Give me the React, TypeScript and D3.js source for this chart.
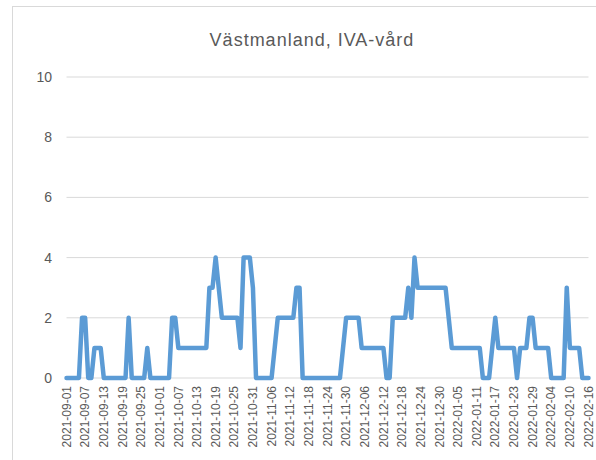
import React from 'react';
import * as d3 from 'd3';

// Daily IVA (ICU) patients, Västmanland, 2021-09-01 .. 2022-02-16
const firstDay = '2021-09-01';
const lastDay = '2022-02-16';
const patients: number[] = [
  0, 0, 0, 0, 0, 2, 2, 0, 0, 1, 1, 1, 0, 0, 0, 0, 0, 0, 0, 0,
  2, 0, 0, 0, 0, 0, 1, 0, 0, 0, 0, 0, 0, 0, 2, 2, 1, 1, 1, 1,
  1, 1, 1, 1, 1, 1, 3, 3, 4, 3, 2, 2, 2, 2, 2, 2, 1, 4, 4, 4,
  3, 0, 0, 0, 0, 0, 0, 1, 2, 2, 2, 2, 2, 2, 3, 3, 0, 0, 0, 0,
  0, 0, 0, 0, 0, 0, 0, 0, 0, 1, 2, 2, 2, 2, 2, 1, 1, 1, 1, 1,
  1, 1, 1, 0, 0, 2, 2, 2, 2, 2, 3, 2, 4, 3, 3, 3, 3, 3, 3, 3,
  3, 3, 3, 2, 1, 1, 1, 1, 1, 1, 1, 1, 1, 1, 0, 0, 0, 1, 2, 1,
  1, 1, 1, 1, 1, 0, 1, 1, 1, 2, 2, 1, 1, 1, 1, 1, 0, 0, 0, 0,
  0, 3, 1, 1, 1, 1, 0, 0, 0,
];
const yTicks = [0, 2, 4, 6, 8, 10];
const labelEvery = 6;
const title = 'Västmanland, IVA-vård';

const W = 596;
const H = 460;
const FONT = '"Liberation Sans", Arial, sans-serif';
const TEXT = '#595959';

const App: React.FC = () => {
  const fmt = d3.utcFormat('%Y-%m-%d');
  const start = d3.utcParse('%Y-%m-%d')(firstDay)!;
  const end = d3.utcParse('%Y-%m-%d')(lastDay)!;
  const days = d3.utcDays(start, d3.utcDay.offset(end, 1)).map(fmt);

  const x = d3.scalePoint<string>().domain(days).range([66.5, 588.5]);
  const y = d3.scaleLinear().domain([0, 10]).range([378, 77]);

  const line = d3
    .line<number>()
    .x((_, i) => x(days[i])!)
    .y((d) => y(d));

  const tickDays = days.filter((_, i) => i % labelEvery === 0);
  const [x0, x1] = x.range();

  return (
    <svg
      width={W}
      height={H}
      style={{ position: 'absolute', left: 0, top: 0, background: '#fff' }}
    >
      <rect x={12.5} y={6.5} width={W} height={H} fill="#fff" stroke="#d9d9d9" />
      <text
        x={312}
        y={46}
        textAnchor="middle"
        fontFamily={FONT}
        fontSize={18}
        letterSpacing={1}
        fill={TEXT}
      >
        {title}
      </text>

      {yTicks.map((t) => (
        <g key={t}>
          <line x1={x0} x2={x1} y1={y(t)} y2={y(t)} stroke="#d9d9d9" strokeWidth={1} />
          <text
            x={52}
            y={y(t)}
            dy="0.35em"
            textAnchor="end"
            fontFamily={FONT}
            fontSize={14}
            fill={TEXT}
          >
            {t}
          </text>
        </g>
      ))}

      {tickDays.map((d) => (
        <text
          key={d}
          transform={`translate(${x(d)},386) rotate(-90)`}
          dy="0.35em"
          textAnchor="end"
          fontFamily={FONT}
          fontSize={12}
          fill={TEXT}
        >
          {d}
        </text>
      ))}

      <path
        d={line(patients) ?? ''}
        fill="none"
        stroke="#5b9bd5"
        strokeWidth={4.5}
        strokeLinejoin="round"
        strokeLinecap="round"
      />
    </svg>
  );
};

export default App;
